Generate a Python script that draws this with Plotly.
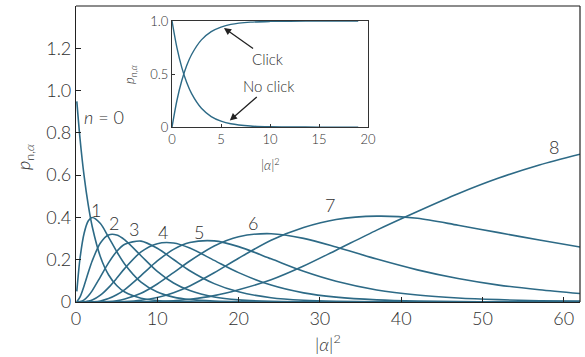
import plotly.graph_objects as go

# ---------------- data ----------------
alpha2 = [0.1, 0.5, 1, 1.5, 2, 3, 4, 5, 6, 8, 10, 12, 14, 17, 20, 24, 28, 32, 37, 42, 47, 52, 57, 62]

p_n0 = [0.949, 0.771, 0.595, 0.460, 0.356, 0.214, 0.129, 0.078, 0.047, 0.018, 0.007, 0.003, 0.001, 0.000, 0.0, 0.0, 0.0, 0.0, 0.0, 0.0, 0.0, 0.0, 0.0, 0.0]
p_n1 = [0.050, 0.208, 0.325, 0.383, 0.400, 0.371, 0.307, 0.239, 0.179, 0.094, 0.047, 0.023, 0.011, 0.004, 0.001, 0.000, 0.0, 0.0, 0.0, 0.0, 0.0, 0.0, 0.0, 0.0]
p_n2 = [0.001, 0.024, 0.077, 0.138, 0.195, 0.279, 0.317, 0.317, 0.294, 0.219, 0.145, 0.090, 0.054, 0.024, 0.010, 0.003, 0.001, 0.000, 0.0, 0.0, 0.0, 0.0, 0.0, 0.0]
p_n3 = [0.000, 0.002, 0.010, 0.028, 0.054, 0.119, 0.185, 0.239, 0.273, 0.288, 0.254, 0.201, 0.148, 0.087, 0.048, 0.020, 0.008, 0.003, 0.001, 0.000, 0.0, 0.0, 0.0, 0.0]
p_n4 = [0.000, 0.000, 0.001, 0.004, 0.009, 0.032, 0.068, 0.112, 0.159, 0.237, 0.276, 0.279, 0.255, 0.197, 0.139, 0.080, 0.043, 0.023, 0.010, 0.004, 0.002, 0.001, 0.000, 0.000]
p_n5 = [0.000, 0.000, 0.000, 0.000, 0.001, 0.005, 0.016, 0.034, 0.059, 0.125, 0.194, 0.249, 0.281, 0.289, 0.262, 0.204, 0.145, 0.098, 0.057, 0.033, 0.019, 0.011, 0.006, 0.004]
p_n6 = [0.000, 0.000, 0.000, 0.000, 0.000, 0.001, 0.002, 0.006, 0.014, 0.041, 0.085, 0.139, 0.194, 0.265, 0.309, 0.323, 0.301, 0.260, 0.203, 0.152, 0.111, 0.080, 0.058, 0.040]
p_n7 = [0.000, 0.000, 0.000, 0.000, 0.000, 0.000, 0.000, 0.001, 0.002, 0.008, 0.021, 0.044, 0.076, 0.138, 0.207, 0.292, 0.352, 0.390, 0.406, 0.396, 0.363, 0.328, 0.293, 0.260]
p_n8 = [0.000, 0.000, 0.000, 0.000, 0.000, 0.000, 0.000, 0.000, 0.000, 0.001, 0.002, 0.006, 0.013, 0.030, 0.058, 0.105, 0.170, 0.245, 0.340, 0.428, 0.512, 0.586, 0.648, 0.699]

curves = [p_n0, p_n1, p_n2, p_n3, p_n4, p_n5, p_n6, p_n7, p_n8]

# curve labels: (text, x, y)
label_text = ["<i>n</i> = 0", "1", "2", "3", "4", "5", "6", "7", "8"]
label_x = [3.5, 2.5, 4.7, 7.1, 10.7, 15.1, 21.8, 31.2, 58.8]
label_y = [0.875, 0.435, 0.372, 0.344, 0.330, 0.332, 0.372, 0.459, 0.734]

# inset: click / no-click probabilities
inset_x = [0, 0.5, 1, 1.5, 2, 3, 4, 5, 6, 8, 10, 12, 15, 19]
no_click = [1.0, 0.749, 0.561, 0.420, 0.315, 0.177, 0.099, 0.056, 0.031, 0.010, 0.003, 0.001, 0.000, 0.000]
click = [0.0, 0.251, 0.439, 0.580, 0.685, 0.823, 0.901, 0.944, 0.969, 0.990, 0.997, 0.999, 1.000, 1.000]

main_xticks = [0, 10, 20, 30, 40, 50, 60]
main_yticks = [0, 0.2, 0.4, 0.6, 0.8, 1.0, 1.2]
main_yticktext = ["0", "0.2", "0.4", "0.6", "0.8", "1.0", "1.2"]
inset_xticks = [0, 5, 10, 15, 20]
inset_yticks = [0, 0.5, 1.0]
inset_yticktext = ["0", "0.5", "1.0"]

# ---------------- figure ----------------
LINE = "#2d6a86"
TXT = "#303030"
FONT = "Lato"
W = 300

fig = go.Figure()
for ys in curves:
    fig.add_trace(go.Scatter(x=alpha2, y=ys, mode="lines", xaxis="x", yaxis="y",
                             line=dict(color=LINE, width=1.6, shape="spline", smoothing=0.8),
                             showlegend=False, hoverinfo="skip"))

fig.add_trace(go.Scatter(x=inset_x, y=click, mode="lines", xaxis="x2", yaxis="y2",
                         line=dict(color=LINE, width=1.4, shape="spline", smoothing=0.8),
                         showlegend=False, hoverinfo="skip"))
fig.add_trace(go.Scatter(x=inset_x, y=no_click, mode="lines", xaxis="x2", yaxis="y2",
                         line=dict(color=LINE, width=1.4, shape="spline", smoothing=0.8),
                         showlegend=False, hoverinfo="skip"))

annotations = []
for t, lx, ly in zip(label_text, label_x, label_y):
    annotations.append(dict(x=lx, y=ly, xref="x", yref="y", text=t, showarrow=False,
                            xanchor="center", yanchor="middle",
                            font=dict(family=FONT, size=18, color=TXT, weight=W)))

# axis titles
annotations.append(dict(x=0.5, y=-0.139, xref="paper", yref="paper",
                        text="|<i>α</i>|<sup>2</sup>", showarrow=False,
                        xanchor="center", yanchor="middle",
                        font=dict(family=FONT, size=18, color=TXT, weight=W)))
annotations.append(dict(x=-0.101, y=0.49, xref="paper", yref="paper",
                        text="<i>p</i><sub>n,<i>α</i></sub>", showarrow=False, textangle=-90,
                        xanchor="center", yanchor="middle",
                        font=dict(family=FONT, size=18, color=TXT, weight=W)))
annotations.append(dict(x=0.385, y=0.466, xref="paper", yref="paper",
                        text="|<i>α</i>|<sup>2</sup>", showarrow=False,
                        xanchor="center", yanchor="middle",
                        font=dict(family=FONT, size=13, color=TXT, weight=W)))
annotations.append(dict(x=0.107, y=0.77, xref="paper", yref="paper",
                        text="<i>p</i><sub>n,<i>α</i></sub>", showarrow=False, textangle=-90,
                        xanchor="center", yanchor="middle",
                        font=dict(family=FONT, size=13, color=TXT, weight=W)))

# inset arrows
annotations.append(dict(x=5.3, y=0.935, xref="x2", yref="y2", text="Click",
                        showarrow=True, ax=44, ay=31, arrowhead=2, arrowsize=1.1,
                        arrowwidth=1.3, arrowcolor="#222222",
                        font=dict(family=FONT, size=15, color=TXT, weight=W)))
annotations.append(dict(x=5.9, y=0.063, xref="x2", yref="y2", text="No click",
                        showarrow=True, ax=39, ay=-34, arrowhead=2, arrowsize=1.1,
                        arrowwidth=1.3, arrowcolor="#222222",
                        font=dict(family=FONT, size=15, color=TXT, weight=W)))

shapes = [
    dict(type="line", xref="paper", yref="paper", x0=0, x1=1, y0=1, y1=1,
         line=dict(color="#8c8c8c", width=2)),
    dict(type="line", xref="paper", yref="paper", x0=1, x1=1, y0=0, y1=1,
         line=dict(color="#222222", width=1.2)),
]

fig.update_layout(
    width=585, height=357,
    margin=dict(l=76, r=5, t=6, b=55, autoexpand=False),
    paper_bgcolor="white", plot_bgcolor="white",
    font=dict(family=FONT, color=TXT),
    xaxis=dict(domain=[0, 1], range=[0, 62], tickvals=main_xticks, anchor="y",
               showline=True, linecolor="#222222", linewidth=1.2, ticks="inside",
               ticklen=5, tickcolor="#222222", showgrid=False, zeroline=False,
               automargin=False, tickfont=dict(family=FONT, size=18, color=TXT, weight=W)),
    yaxis=dict(domain=[0, 1], range=[0, 1.4], tickvals=main_yticks, ticktext=main_yticktext,
               anchor="x", showline=True, linecolor="#222222", linewidth=1.2, ticks="inside",
               ticklen=5, tickcolor="#222222", showgrid=False, zeroline=False,
               automargin=False, tickfont=dict(family=FONT, size=18, color=TXT, weight=W)),
    xaxis2=dict(domain=[0.1905, 0.5794], range=[0, 20], tickvals=inset_xticks, anchor="y2",
                showline=True, mirror=True, linecolor="#333333", linewidth=1, ticks="inside",
                ticklen=3, tickcolor="#333333", showgrid=False, zeroline=False,
                automargin=False, tickfont=dict(family=FONT, size=13, color=TXT, weight=W)),
    yaxis2=dict(domain=[0.5909, 0.949], range=[0, 1], tickvals=inset_yticks,
                ticktext=inset_yticktext, anchor="x2",
                showline=True, mirror=True, linecolor="#333333", linewidth=1, ticks="inside",
                ticklen=3, tickcolor="#333333", showgrid=False, zeroline=False,
                automargin=False, tickfont=dict(family=FONT, size=13, color=TXT, weight=W)),
    annotations=annotations,
    shapes=shapes,
)

fig.write_html("out.html", config={"displayModeBar": False},
               post_script="document.body.style.margin='0px';")
